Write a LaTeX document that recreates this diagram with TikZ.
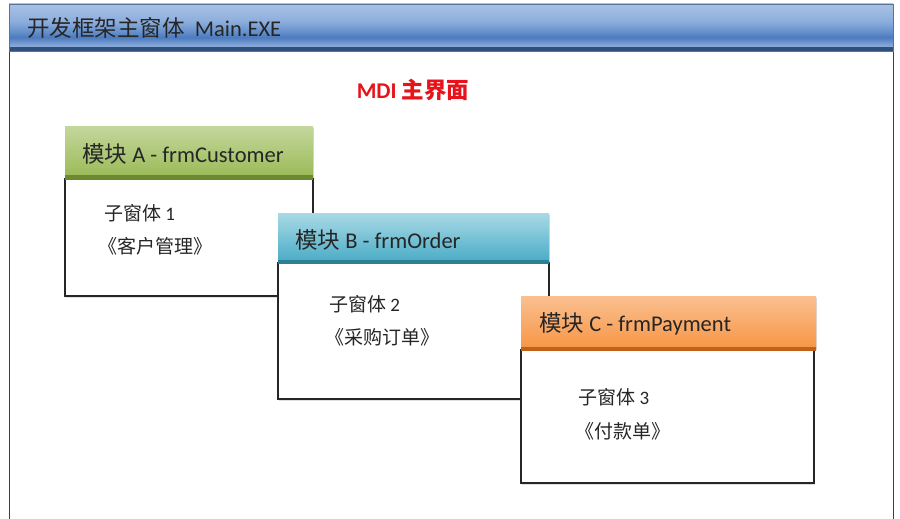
\documentclass[tikz,border=0pt]{standalone}
\usepackage{fontspec}
\setmainfont{Carlito}
\newfontfamily\cjk{Noto Sans CJK SC}
\usetikzlibrary{shadows}
\definecolor{tbedge}{HTML}{2F4F7F}
\definecolor{gtop}{HTML}{C4D79C}
\definecolor{gmid}{HTML}{9BBB59}
\definecolor{gedge}{HTML}{6B8A30}
\definecolor{btop}{HTML}{A9DAE6}
\definecolor{bmid}{HTML}{4BACC6}
\definecolor{bedge}{HTML}{2C7F95}
\definecolor{otop}{HTML}{FAC090}
\definecolor{omid}{HTML}{F79646}
\definecolor{oedge}{HTML}{C0611A}
\definecolor{mdired}{HTML}{E8131A}
\pgfdeclareverticalshading{titlebar}{100bp}{
  rgb(0bp)=(0.58,0.69,0.86);
  rgb(25bp)=(0.58,0.69,0.86);
  rgb(30bp)=(0.48,0.62,0.83);
  rgb(37bp)=(0.30,0.48,0.75);
  rgb(44bp)=(0.40,0.57,0.80);
  rgb(55bp)=(0.55,0.68,0.86);
  rgb(75bp)=(0.66,0.76,0.90);
  rgb(100bp)=(0.66,0.76,0.90)}
\tikzset{
  x=1pt, y=-1pt,
  bodybox/.style={draw=black!85, line width=1.2pt, fill=white,
    drop shadow={shadow xshift=1pt, shadow yshift=-1.5pt, opacity=0.25}},
  hdrbox/.style={draw=none, rectangle,
    drop shadow={shadow xshift=1pt, shadow yshift=-2pt, opacity=0.3}},
  hdrtext/.style={anchor=west, inner sep=0pt, font=\fontsize{22.5}{25}\selectfont, text=black!85},
  bodytext/.style={anchor=west, inner sep=0pt, font=\fontsize{19}{22}\selectfont, text=black!85},
}
\begin{document}
\begin{tikzpicture}
\useasboundingbox (0,0) rectangle (900,519);
% outer window
\fill[white] (9,50) rectangle (893,519);
\draw[black!75, line width=1pt] (9,50) -- (9,519);
\draw[black!75, line width=1pt] (893,50) -- (893,519);
\shade[shading=titlebar] (9,4) rectangle (893,48);
\fill[tbedge] (9,47) rectangle (893,51);
\draw[tbedge!80, line width=0.5pt] (9,4) rectangle (893,51);
\node[anchor=west, inner sep=0pt, font=\fontsize{22.5}{25}\selectfont, text=black!85] (title) at (27,28) {{\cjk 开发框架主窗体}\ \ Main.EXE};
\node[inner sep=0pt, font=\bfseries\fontsize{22.5}{25}\selectfont, text=mdired] (mdi) at (413,90) {MDI {\cjk\bfseries 主界面}};

% module A
\draw[bodybox] (65,179) rectangle (313,296);
\shade[hdrbox, top color=gtop, bottom color=gmid] (65,126) rectangle (313,176);
\fill[gedge] (65,175) rectangle (313,180);
\node[hdrtext] (ha) at (82,154) {{\cjk 模块} A - frmCustomer};
\node[bodytext] (a1) at (104,213) {{\cjk 子窗体} 1};
\node[bodytext] (a2) at (98,246) {{\cjk 《客户管理》}};

% module B
\draw[bodybox] (278,263) rectangle (549,399);
\shade[hdrbox, top color=btop, bottom color=bmid] (278,213) rectangle (549,261);
\fill[bedge] (278,260) rectangle (549,264);
\node[hdrtext] (hb) at (295,240) {{\cjk 模块} B - frmOrder};
\node[bodytext] (b1) at (329,304) {{\cjk 子窗体} 2};
\node[bodytext] (b2) at (325,337) {{\cjk 《采购订单》}};

% module C
\draw[bodybox] (521,350) rectangle (814,483);
\shade[hdrbox, top color=otop, bottom color=omid] (521,296) rectangle (816,348);
\fill[oedge] (521,347) rectangle (816,351);
\node[hdrtext] (hc) at (539,324) {{\cjk 模块} C - frmPayment};
\node[bodytext] (c1) at (578,397) {{\cjk 子窗体} 3};
\node[bodytext] (c2) at (575,431) {{\cjk 《付款单》}};
\end{tikzpicture}
\end{document}
